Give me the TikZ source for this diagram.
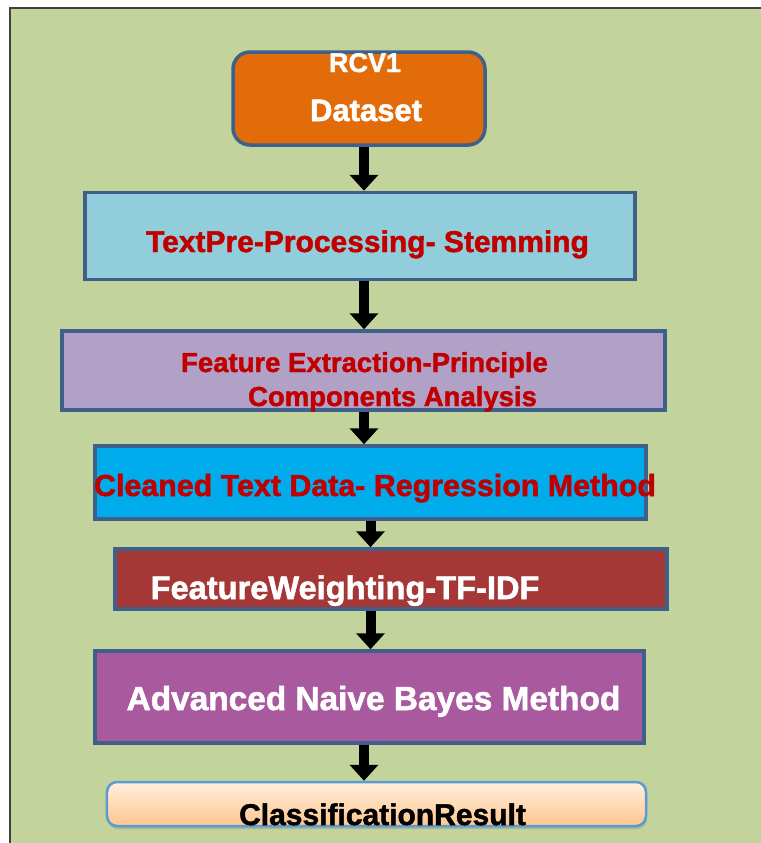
\documentclass[tikz,border=0pt]{standalone}
\usepackage{fontspec}
\setmainfont{Liberation Sans}[BoldFeatures={FakeBold=1.6}]
\usepackage{tikz}
\usetikzlibrary{arrows.meta,positioning,shadows}
\definecolor{bggreen}{RGB}{194,212,155}
\definecolor{boxedge}{RGB}{62,96,138}
\definecolor{dataorange}{RGB}{226,108,10}
\definecolor{prepblue}{RGB}{146,205,220}
\definecolor{extlilac}{RGB}{178,161,199}
\definecolor{cleancyan}{RGB}{0,172,236}
\definecolor{weightred}{RGB}{166,55,55}
\definecolor{bayesviolet}{RGB}{169,90,159}
\definecolor{textred}{RGB}{192,0,0}
\definecolor{resultedge}{RGB}{91,155,213}
\newcommand{\stagefont}[1]{\fontsize{#1bp}{#1bp}\selectfont\bfseries}

\begin{document}
\begin{tikzpicture}[x=1bp,y=-1bp,
        stage/.style={draw=boxedge, line width=3.5bp, inner sep=0pt},
        lbl/.style={anchor=base, inner sep=0pt},
        flow/.style={line width=10bp, -{Triangle[width=28bp,length=16bp]}}
    ]
        % Page and background
        \useasboundingbox (0,0) rectangle (761,843);
        \fill[white] (0,0) rectangle (761,843);
        \fill[bggreen] (10,8) rectangle (761,843);
        \draw[black!75, line width=1.5bp] (10,843) -- (10,8) -- (761,8);

        % Stages
        \node[stage, fill=dataorange, rounded corners=17bp, minimum width=252bp, minimum height=93bp] (dataset) at (359,98.5) {};
        \node[stage, fill=prepblue, minimum width=550bp, minimum height=87bp] (prep) at (360,236) {};
        \node[stage, fill=extlilac, minimum width=603bp, minimum height=79bp] (extract) at (363.5,370.5) {};
        \node[stage, fill=cleancyan, minimum width=551bp, minimum height=73bp] (clean) at (370.5,482.5) {};
        \node[stage, fill=weightred, minimum width=552bp, minimum height=60bp] (weight) at (391,579) {};
        \node[stage, fill=bayesviolet, minimum width=549bp, minimum height=92bp] (bayes) at (369.5,697) {};
        \node[draw=resultedge, line width=2.5bp, rounded corners=10bp, top color=orange!12, bottom color=orange!45!white,
              drop shadow={opacity=0.35, shadow xshift=1bp, shadow yshift=-3bp},
              minimum width=539bp, minimum height=44bp, inner sep=0pt] (result) at (376.5,804) {};

        % Labels
        \node[lbl, white, font=\stagefont{27}] (rcvname) at (365,72) {RCV1};
        \node[lbl, white, font=\stagefont{31}] (dsname) at (366,121) {Dataset};
        \node[lbl, textred, font=\stagefont{30}] (preptext) at (367.5,252) {TextPre-Processing- Stemming};
        \node[lbl, textred, font=\stagefont{27.5}] (extone) at (364.5,372) {Feature Extraction-Principle};
        \node[lbl, textred, font=\stagefont{27.5}] (exttwo) at (392.5,406) {Components Analysis};
        \node[lbl, textred, font=\stagefont{30.4}] (cleantext) at (375,496) {Cleaned Text Data- Regression Method};
        \node[lbl, white, font=\stagefont{32.6}] (weighttext) at (345,599) {FeatureWeighting-TF-IDF};
        \node[lbl, white, font=\stagefont{33.4}] (bayestext) at (373.5,710) {Advanced Naive Bayes Method};
        \node[lbl, black, font=\stagefont{30}] (resulttext) at (382.5,825) {ClassificationResult};

        % Arrows
        \coordinate (spineA) at (364,0);
        \coordinate (spineB) at (370.5,0);
        \draw[flow] (dataset.south -| spineA) -- (prep.north -| spineA);
        \draw[flow] (prep.south -| spineA) -- (extract.north -| spineA);
        \draw[flow] (extract.south -| spineA) -- (clean.north -| spineA);
        \draw[flow] (clean.south -| spineB) -- (weight.north -| spineB);
        \draw[flow] (weight.south -| spineB) -- (bayes.north -| spineB);
        \draw[flow] (bayes.south -| spineA) -- (result.north -| spineA);

    \end{tikzpicture}
\end{document}
